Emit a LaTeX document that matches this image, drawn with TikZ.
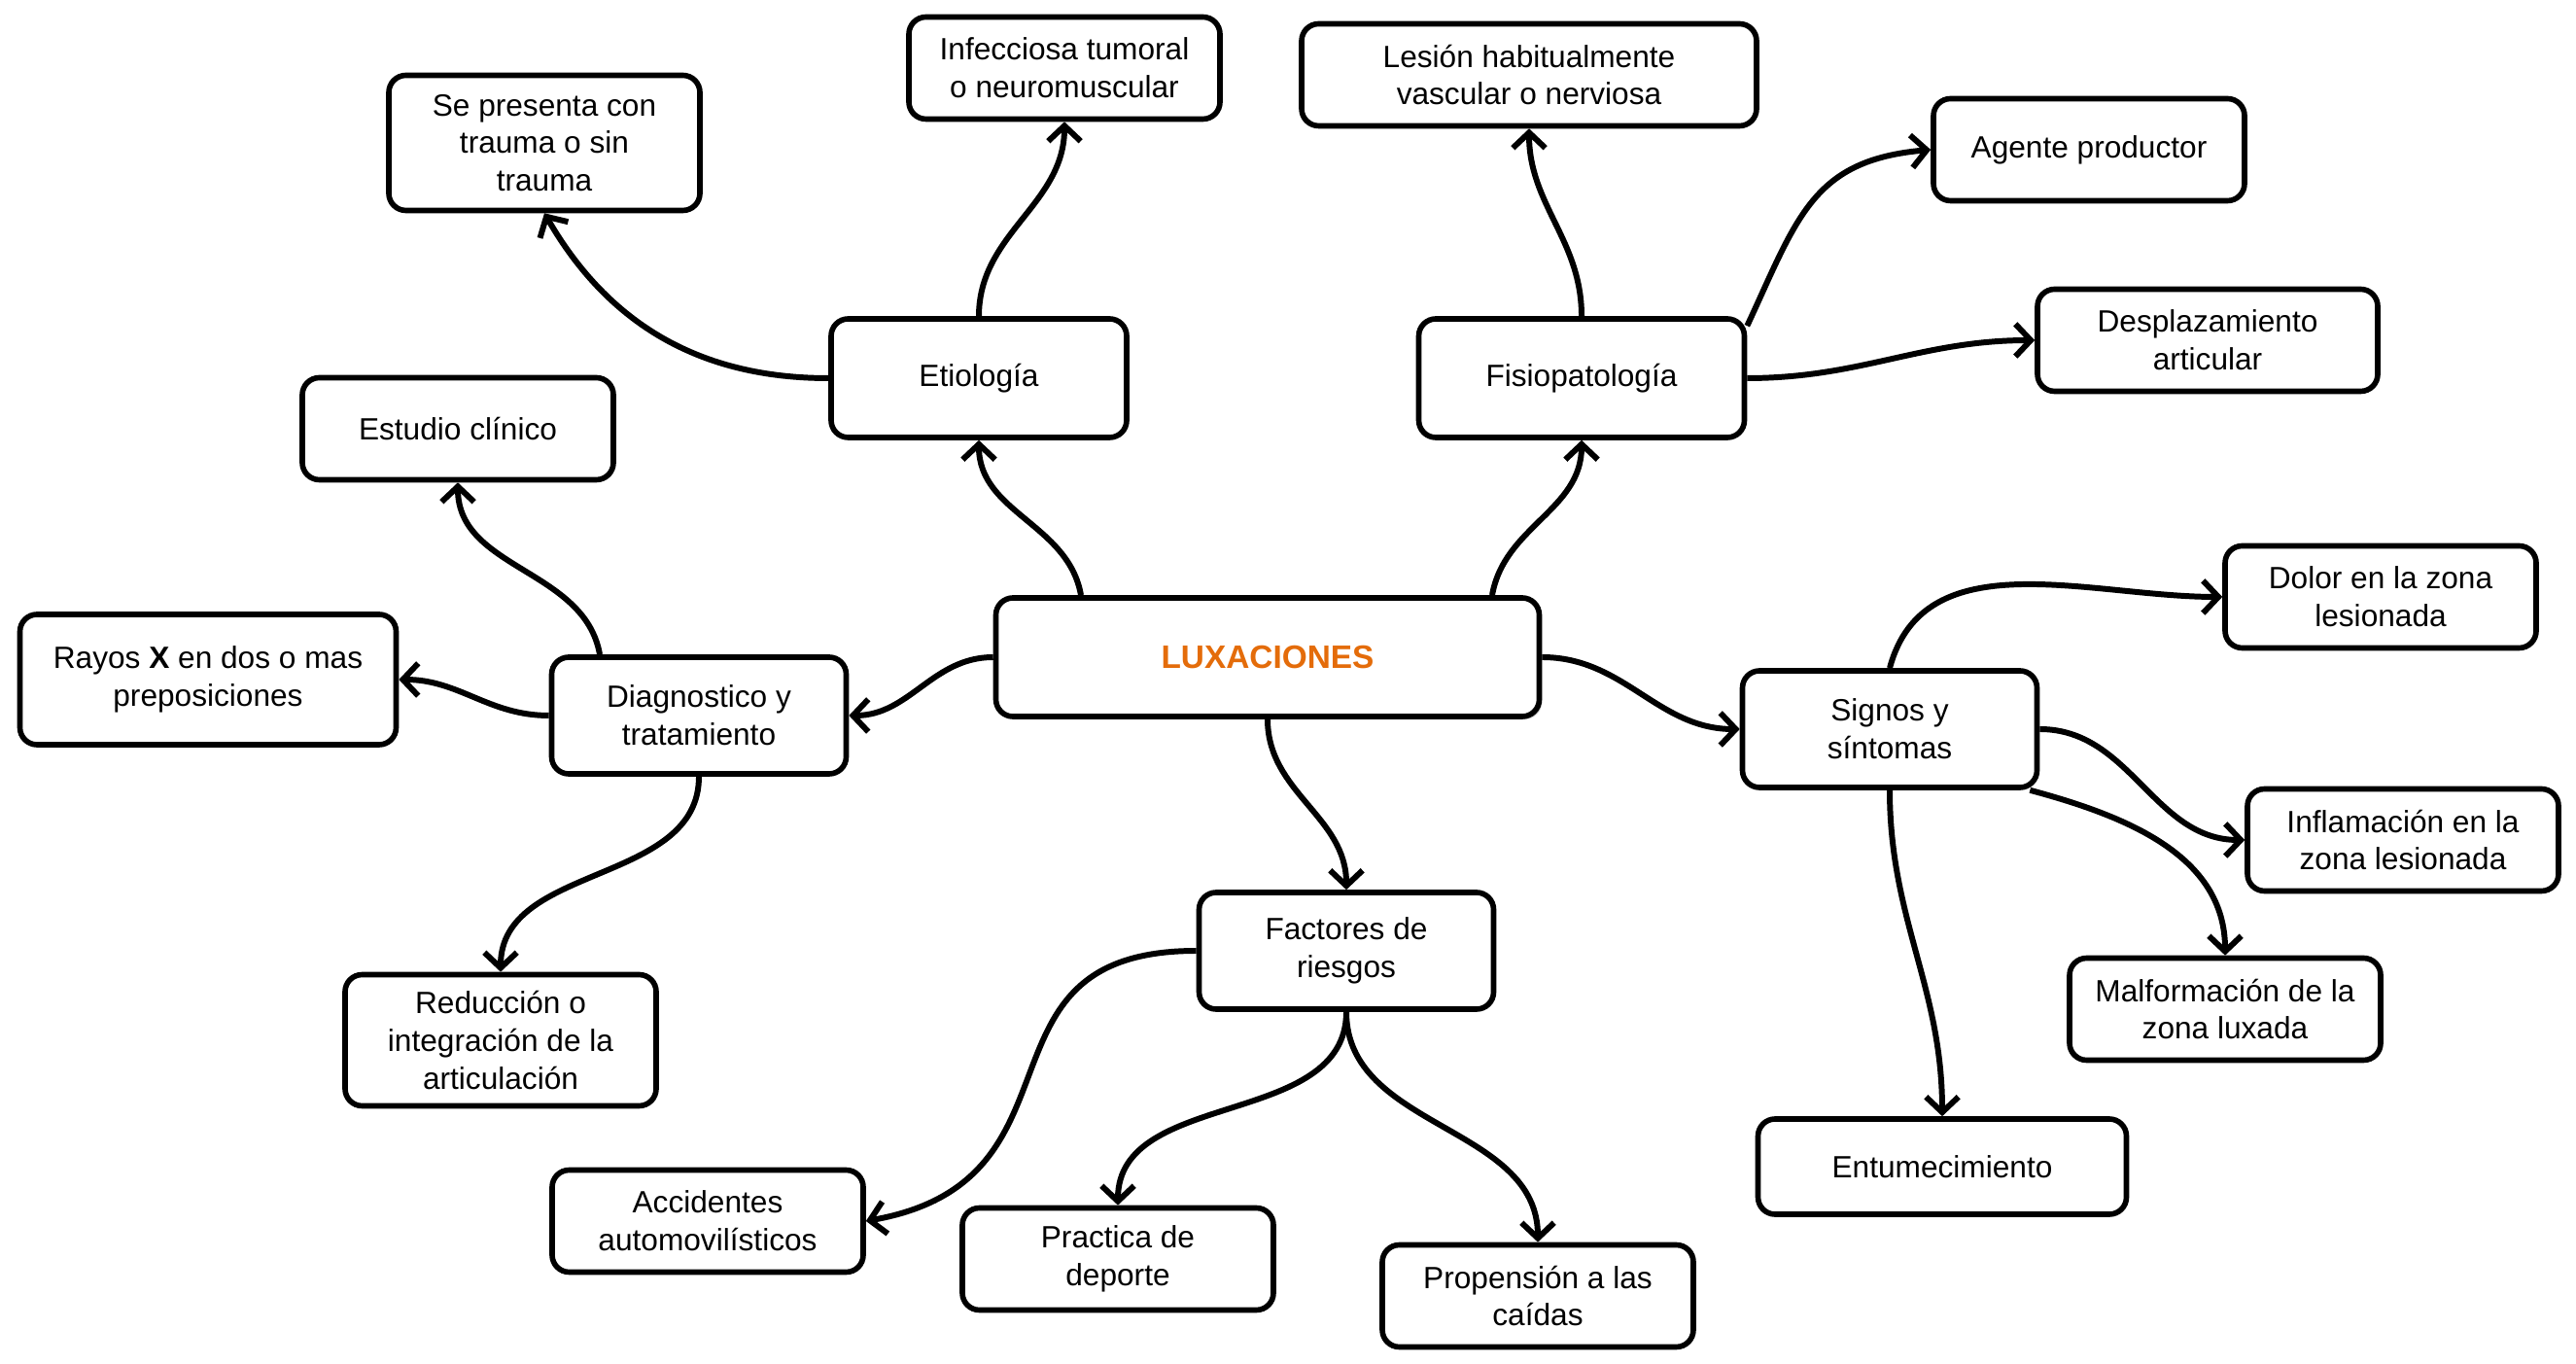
\documentclass[tikz,border=0pt]{standalone}
\usepackage{fontspec}
\setmainfont{Liberation Sans}
\usetikzlibrary{arrows.meta, shadows}
\definecolor{luxorange}{HTML}{E46C0A}
\tikzset{
  box/.style={draw, line width=1.6pt, rounded corners=5pt, fill=white, align=center,
    minimum width=3.2cm, minimum height=1.05cm, font=\fontsize{9}{11}\selectfont},
  mainbox/.style={box, minimum width=5.59cm, minimum height=1.22cm, text=luxorange,
    font=\fontsize{9.5}{11}\selectfont\bfseries,
    drop shadow={shadow xshift=0.8pt, shadow yshift=-0.8pt, fill=black!35}},
  link/.style={line width=1.7pt, -{Straight Barb[length=4.5pt,width=9.5pt]}},
}

\begin{document}
\begin{tikzpicture}
\useasboundingbox (0,0) rectangle (26.5,14.03);
%\draw[step=1cm,gray,very thin] (0,0) grid (26.5,14.03); %background grid
\node[mainbox] (lux) at (13.04,7.27) {LUXACIONES}; %centre
\node[box, minimum width=3.04cm, minimum height=1.22cm] (etio) at (10.07,10.14) {Etiología};
\node[box, minimum width=3.35cm, minimum height=1.22cm] (fisio) at (16.27,10.14) {Fisiopatología};
\node[box, minimum width=3.03cm, minimum height=1.2cm] (diag) at (7.19,6.67) {Diagnostico y\\tratamiento};
\node[box, minimum width=3.03cm, minimum height=1.2cm] (fact) at (13.85,4.25) {Factores de\\riesgos};
\node[box, minimum width=3.03cm, minimum height=1.2cm] (signos) at (19.44,6.53) {Signos y\\síntomas};
% etiologia
\node[box, minimum height=1.39cm] (trauma) at (5.60,12.56) {Se presenta con\\trauma o sin\\trauma};
\node[box] (infec) at (10.95,13.33) {Infecciosa tumoral\\o neuromuscular};
% fisiopatologia
\node[box, minimum width=4.68cm] (lesion) at (15.73,13.26) {Lesión habitualmente\\vascular o nerviosa};
\node[box] (agente) at (21.49,12.49) {Agente productor};
\node[box, minimum width=3.5cm] (despl) at (22.71,10.53) {Desplazamiento\\articular};
% diagnostico
\node[box] (estudio) at (4.71,9.62) {Estudio clínico};
\node[box, minimum width=3.87cm, minimum height=1.34cm] (rayos) at (2.14,7.04) {Rayos \textbf{X} en dos o mas\\preposiciones};
\node[box, minimum height=1.35cm] (reduc) at (5.15,3.33) {Reducción o\\integración de la\\articulación};
% factores
\node[box] (accid) at (7.28,1.47) {Accidentes\\automovilísticos};
\node[box] (practica) at (11.50,1.08) {Practica de\\deporte};
\node[box] (propen) at (15.82,0.70) {Propensión a las\\caídas};
% signos
\node[box] (dolor) at (24.49,7.89) {Dolor en la zona\\lesionada};
\node[box] (inflam) at (24.72,5.39) {Inflamación en la\\zona lesionada};
\node[box] (malf) at (22.89,3.65) {Malformación de la\\zona luxada};
\node[box, minimum width=3.79cm, minimum height=0.98cm] (entum) at (19.98,2.03) {Entumecimiento};

\draw[link] ([xshift=-1.92cm]lux.north) to[out=100,in=-90] (etio.south);
\draw[link] ([xshift=2.31cm]lux.north) to[out=80,in=-90] (fisio.south);
\draw[link] (lux.west) to[out=180,in=0] (diag.east);
\draw[link] (lux.east) to[out=0,in=180] (signos.west);
\draw[link] (lux.south) to[out=-90,in=90] (fact.north);
\draw[link] (etio.west) to[out=180,in=-60] (trauma.south);
\draw[link] (etio.north) to[out=90,in=-90] (infec.south);
\draw[link] (fisio.north) to[out=90,in=-90] (lesion.south);
\draw[link] ([yshift=-0.1cm]fisio.north east) to[out=65,in=185,looseness=1.2] (agente.west);
\draw[link] (fisio.east) to[out=0,in=180] (despl.west);
\draw[link] ([xshift=-1.02cm]diag.north) to[out=100,in=-90] (estudio.south);
\draw[link] (diag.west) to[out=180,in=0] (rayos.east);
\draw[link] (diag.south) to[out=-90,in=90] (reduc.north);
\draw[link] (fact.west) to[out=180,in=10,looseness=1.4] (accid.east);
\draw[link] (fact.south) to[out=-90,in=90] (practica.north);
\draw[link] (fact.south) to[out=-90,in=90] (propen.north);
\draw[link] (signos.north) to[out=75,in=180] (dolor.west);
\draw[link] (signos.east) to[out=0,in=180] (inflam.west);
\draw[link] ([xshift=-0.1cm]signos.south east) to[out=-15,in=90] (malf.north);
\draw[link] (signos.south) to[out=-90,in=90] (entum.north);
\end{tikzpicture}
\end{document}
